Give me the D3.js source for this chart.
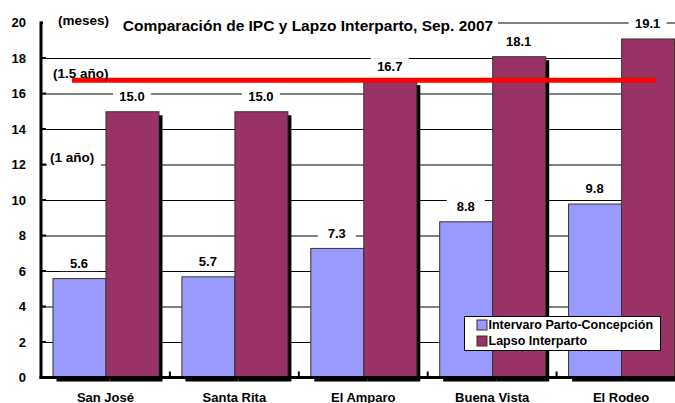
<!DOCTYPE html>
<html lang="es">
<head>
<meta charset="UTF-8">
<title>Comparación de IPC y Lapzo Interparto</title>
<style>
  body { margin: 0; padding: 0; background: #fff; }
  svg { display: block; font-family: "Liberation Sans", Arial, sans-serif; font-weight: bold; }
  .grid line { stroke: #000; stroke-width: 1; }
  .grid path { display: none; }
  .lbl { font-size: 13px; fill: #000; }
</style>
</head>
<body>
<div id="chart"></div>
<script src="https://d3js.org/d3.v7.min.js"></script>
<script>
  var fincas = ["San José", "Santa Rita", "El Amparo", "Buena Vista", "El Rodeo"];
  var intervalo = [5.6, 5.7, 7.3, 8.8, 9.8];
  var lapso = [15.0, 15.0, 16.7, 18.1, 19.1];
  var seriesNames = ["Intervaro Parto-Concepción", "Lapso Interparto"];
  var colors = ["#9999ff", "#993366"];
  var yTicks = [0, 2, 4, 6, 8, 10, 12, 14, 16, 18, 20];
  var lineaRoja = 16.75;

  var width = 675, height = 403;
  var x0 = 41, yBase = 377.5, yTop = 22.5, band = 128.9;

  var svg = d3.select("#chart").append("svg")
    .attr("width", width).attr("height", height);

  var x = d3.scaleBand().domain(fincas).range([x0, x0 + band * fincas.length]).paddingInner(0).paddingOuter(0);
  var y = d3.scaleLinear().domain([0, 20]).range([yBase, yTop]);

  // gridlines
  svg.append("g").attr("class", "grid")
    .attr("transform", "translate(" + x0 + ",0)")
    .call(d3.axisRight(y).tickValues(yTicks.slice(1)).tickSize(width).tickFormat(""));

  // y tick labels
  svg.append("g").selectAll("text").data(yTicks).enter().append("text")
    .attr("class", "lbl")
    .attr("x", 26).attr("y", function(d) { return y(d); })
    .attr("dy", "0.35em").attr("text-anchor", "end")
    .text(function(d) { return d; });

  var data = fincas.map(function(f, i) { return { finca: f, vals: [intervalo[i], lapso[i]] }; });
  var barW = 53, groupOff = 11.5;

  var groups = svg.append("g").selectAll("g").data(data).enter().append("g")
    .attr("transform", function(d) { return "translate(" + (x(d.finca) + groupOff) + ",0)"; });

  // shadows
  groups.selectAll("rect.sh").data(function(d) { return d.vals; }).enter().append("rect")
    .attr("class", "sh")
    .attr("x", function(d, i) { return i * barW + 4; })
    .attr("y", function(d) { return y(d) + 4; })
    .attr("width", barW)
    .attr("height", function(d) { return yBase - y(d); })
    .attr("fill", "#000");

  groups.selectAll("rect.bar").data(function(d) { return d.vals; }).enter().append("rect")
    .attr("class", "bar")
    .attr("x", function(d, i) { return i * barW + 0.5; })
    .attr("y", function(d) { return y(d) + 0.5; })
    .attr("width", barW)
    .attr("height", function(d) { return yBase - y(d); })
    .attr("fill", function(d, i) { return colors[i]; })
    .attr("stroke", "#333").attr("stroke-width", 1);

  // value labels with white boxes
  var vl = groups.selectAll("g.vl").data(function(d) { return d.vals; }).enter().append("g")
    .attr("class", "vl")
    .attr("transform", function(d, i) { return "translate(" + (i * barW + barW / 2) + "," + (y(d) - 15) + ")"; });
  vl.append("rect").attr("x", -19).attr("y", -8).attr("width", 38).attr("height", 16).attr("fill", "#fff");
  vl.append("text").attr("class", "lbl").attr("text-anchor", "middle").attr("dy", "0.36em")
    .text(function(d) { return d.toFixed(1); });

  // red reference line
  svg.append("line")
    .attr("x1", 72).attr("x2", 656)
    .attr("y1", y(lineaRoja)).attr("y2", y(lineaRoja))
    .attr("stroke", "#ff0000").attr("stroke-width", 5);

  // axes
  svg.append("line").attr("x1", x0).attr("x2", x0).attr("y1", yTop - 1).attr("y2", yBase + 1.5)
    .attr("stroke", "#000").attr("stroke-width", 3);
  svg.append("line").attr("x1", x0 - 1.5).attr("x2", width).attr("y1", yBase).attr("y2", yBase)
    .attr("stroke", "#000").attr("stroke-width", 3);
  svg.append("g").selectAll("line").data(yTicks).enter().append("line")
    .attr("x1", x0).attr("x2", x0 + 5)
    .attr("y1", function(d) { return y(d); }).attr("y2", function(d) { return y(d); })
    .attr("stroke", "#000").attr("stroke-width", 2);
  svg.append("g").selectAll("line").data(fincas.slice(1)).enter().append("line")
    .attr("x1", function(d) { return x(d); }).attr("x2", function(d) { return x(d); })
    .attr("y1", yBase).attr("y2", yBase - 6)
    .attr("stroke", "#000").attr("stroke-width", 2);

  // category labels
  svg.append("g").selectAll("text").data(fincas).enter().append("text")
    .attr("class", "lbl")
    .attr("x", function(d) { return x(d) + x.bandwidth() / 2; })
    .attr("y", 397).attr("dy", "0.35em").attr("text-anchor", "middle")
    .text(function(d) { return d; });

  // title + notes
  svg.append("rect").attr("x", 43).attr("y", 11).attr("width", 455).attr("height", 22).attr("fill", "#fff");
  svg.append("text").attr("class", "lbl").attr("x", 58).attr("y", 20).attr("dy", "0.35em")
    .style("font-size", "13.5px").text("(meses)");
  svg.append("text").attr("class", "lbl").attr("x", 308).attr("y", 26).attr("dy", "0.35em")
    .attr("text-anchor", "middle").style("font-size", "15.5px")
    .text("Comparación de IPC y Lapzo Interparto, Sep. 2007");

  svg.append("rect").attr("x", 50).attr("y", 66).attr("width", 64).attr("height", 11).attr("fill", "#fff");
  svg.append("text").attr("class", "lbl").attr("x", 53).attr("y", 73).attr("dy", "0.35em")
    .style("font-size", "13.5px").text("(1.5 año)");
  svg.append("rect").attr("x", 47).attr("y", 148).attr("width", 54).attr("height", 18).attr("fill", "#fff");
  svg.append("text").attr("class", "lbl").attr("x", 50).attr("y", 157).attr("dy", "0.35em")
    .style("font-size", "13.5px").text("(1 año)");

  // legend
  var lg = svg.append("g").attr("transform", "translate(464.5,316.5)");
  lg.append("rect").attr("width", 196).attr("height", 34).attr("fill", "#fff").attr("stroke", "#000");
  var items = lg.selectAll("g").data(seriesNames).enter().append("g")
    .attr("transform", function(d, i) { return "translate(12.5," + (3.5 + i * 16) + ")"; });
  items.append("rect").attr("width", 10).attr("height", 10)
    .attr("fill", function(d, i) { return colors[i]; }).attr("stroke", "#333");
  items.append("text").attr("class", "lbl").attr("x", 11.5).attr("y", 5).attr("dy", "0.35em")
    .style("font-size", "12.5px").text(function(d) { return d; });
</script>
</body>
</html>
